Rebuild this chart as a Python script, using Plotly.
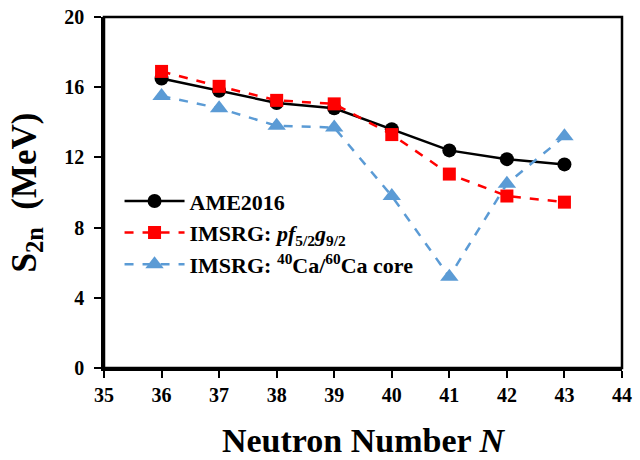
import plotly.graph_objects as go

N = [36, 37, 38, 39, 40, 41, 42, 43]
ame = [16.5, 15.8, 15.1, 14.8, 13.6, 12.4, 11.9, 11.6]
imsrg_pfg = [16.9, 16.05, 15.25, 15.05, 13.3, 11.05, 9.8, 9.45]
imsrg_ca = [15.5, 14.8, 13.8, 13.7, 9.8, 5.2, 10.5, 13.2]

font = "Liberation Serif, Times New Roman, serif"

fig = go.Figure()
fig.add_trace(go.Scatter(x=N, y=ame, mode="lines+markers", name="<b>AME2016</b>",
                         legendgroup="a",
                         line=dict(color="black", width=2.5),
                         marker=dict(symbol="circle", size=14, color="black")))
fig.add_trace(go.Scatter(x=N, y=imsrg_pfg, mode="lines+markers",
                         name="<b>IMSRG: <i>pf</i><sub>5/2</sub><i>g</i><sub>9/2</sub></b>",
                         legendgroup="b",
                         line=dict(color="#ff0000", width=2.5, dash="dash"),
                         marker=dict(symbol="square", size=13, color="#ff0000")))
fig.add_trace(go.Scatter(x=N, y=imsrg_ca, mode="lines+markers",
                         name="<b>IMSRG: <sup>40</sup>Ca/<sup>60</sup>Ca core</b>",
                         legendgroup="c",
                         line=dict(color="#5b9bd5", width=2.5, dash="dash"),
                         marker=dict(symbol="triangle-up", size=16, color="#5b9bd5")))

fig.update_layout(
    width=640, height=460,
    margin=dict(l=104, r=18, t=17, b=92),
    paper_bgcolor="white", plot_bgcolor="white",
    font=dict(family=font, color="black"),
    showlegend=True,
    legend=dict(x=0.03, y=0.535, xanchor="left", yanchor="top",
                font=dict(size=22, family=font), bgcolor="rgba(0,0,0,0)",
                itemwidth=60, tracegroupgap=0),
    shapes=[dict(type="rect", xref="x domain", yref="y domain", x0=0, y0=0, x1=1, y1=1,
                 line=dict(color="black", width=2.5), fillcolor="rgba(0,0,0,0)", layer="above")],
)
fig.update_xaxes(range=[35, 44], dtick=1, showgrid=False, zeroline=False, automargin=False,
                 showline=True, linecolor="black", linewidth=2.5, mirror=False,
                 ticks="outside", ticklen=7, tickwidth=2, tickcolor="black",
                 tickfont=dict(size=20, family=font),
                 tickprefix="<b>", ticksuffix="</b>",
                 title=dict(text="<b>Neutron Number <i>N</i></b>", font=dict(size=34, family=font), standoff=24))
fig.update_yaxes(range=[0, 20], dtick=4, showgrid=False, zeroline=False, automargin=False,
                 showline=True, linecolor="black", linewidth=2.5, mirror=False,
                 ticks="outside", ticklen=7, tickwidth=2, tickcolor="black",
                 tickfont=dict(size=20, family=font), ticklabelstandoff=6,
                 tickprefix="<b>", ticksuffix="</b>",
                 title=dict(text="<b>S<sub>2n</sub>\u00a0 (MeV)</b>", font=dict(size=35, family=font), standoff=18))

fig.write_html("out.html", config={"displayModeBar": False},
               post_script="document.body.style.margin='0';document.body.style.overflow='hidden';")
